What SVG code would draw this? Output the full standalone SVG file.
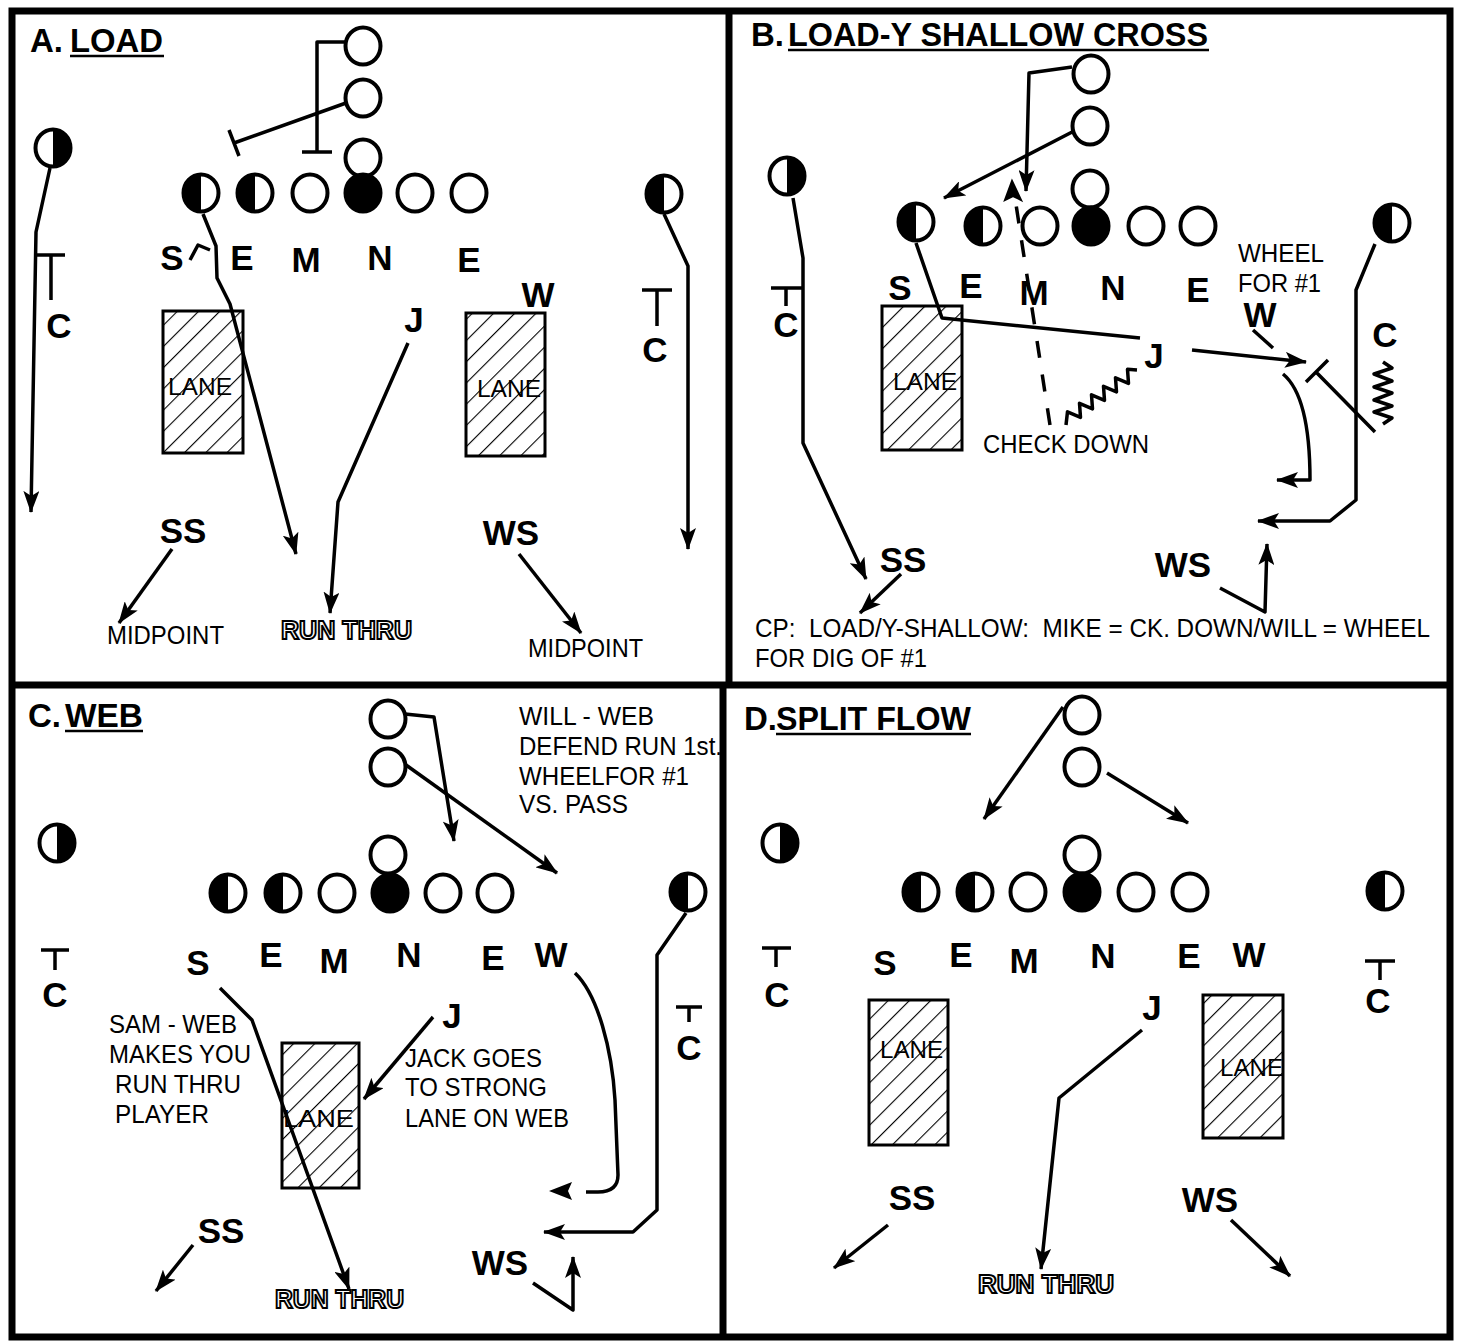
<svg xmlns="http://www.w3.org/2000/svg" xmlns:xlink="http://www.w3.org/1999/xlink" width="1457" height="1341" viewBox="0 0 1457 1341">
<style>
text{font-family:"Liberation Sans",Arial,sans-serif;fill:#000}
.b{font-weight:bold}
.lbl{font-weight:bold;font-size:35px;text-anchor:middle}
.ttl{font-weight:bold;font-size:33px}
.n{font-size:25px}
.hol{font-weight:bold;font-size:26px;fill:#fff;stroke:#000;stroke-width:2}
.lane{font-size:23px}
.ln{fill:none;stroke:#000;stroke-width:3.5;stroke-linejoin:round;stroke-linecap:butt}
.ar{marker-end:url(#ah)}
.ul{stroke:#000;stroke-width:2.5}
.fr{fill:none;stroke:#000;stroke-width:7}
.lanebox{fill:url(#hatch);stroke:#000;stroke-width:3}
</style>
<defs>
<marker id="ah" viewBox="0 0 22 16" refX="21" refY="8" markerWidth="22" markerHeight="16" markerUnits="userSpaceOnUse" orient="auto">
<path d="M0,0 L22,8 L0,16 L5,8 Z" fill="#000"/>
</marker>
<pattern id="hatch" patternUnits="userSpaceOnUse" width="15" height="15" patternTransform="rotate(45)">
<rect width="15" height="15" fill="#fff"/>
<line x1="0" y1="0" x2="0" y2="15" stroke="#000" stroke-width="2.2"/>
</pattern>
<g id="po"><ellipse rx="17.5" ry="18.5" fill="#fff" stroke="#000" stroke-width="4"/></g>
<g id="pf"><ellipse rx="17.5" ry="18.5" fill="#000" stroke="#000" stroke-width="4"/></g>
<g id="pl"><ellipse rx="17.5" ry="18.5" fill="#fff" stroke="#000" stroke-width="4"/><path d="M0,-18.5 A17.5,18.5 0 0 0 0,18.5 Z" fill="#000"/></g>
<g id="pr"><ellipse rx="17.5" ry="18.5" fill="#fff" stroke="#000" stroke-width="4"/><path d="M0,-18.5 A17.5,18.5 0 0 1 0,18.5 Z" fill="#000"/></g>
</defs>
<rect width="1457" height="1341" fill="#fff"/>
<g id="frame">
<path class="fr" d="M12,11 H1450 V1337 H12 Z"/>
<path class="fr" d="M729,11 V685 M12,685 H1450 M723,685 V1337"/>
</g>

<!-- Lanes -->
<g id="lanes">
<g id="a-lane-l"><rect class="lanebox" x="163" y="311" width="80" height="142"/><text class="lane" x="168" y="395" textLength="64" lengthAdjust="spacingAndGlyphs">LANE</text></g>
<g id="a-lane-r"><rect class="lanebox" x="466" y="313" width="79" height="143"/><text class="lane" x="477" y="397" textLength="64" lengthAdjust="spacingAndGlyphs">LANE</text></g>
<g id="b-lane"><rect class="lanebox" x="882" y="306" width="80" height="144"/><text class="lane" x="893" y="390" textLength="64" lengthAdjust="spacingAndGlyphs">LANE</text></g>
<g id="c-lane"><rect class="lanebox" x="282" y="1043" width="77" height="145"/><text class="lane" x="283" y="1127" textLength="71" lengthAdjust="spacingAndGlyphs">LANE</text></g>
<g id="d-lane-l"><rect class="lanebox" x="869" y="1000" width="79" height="145"/><text class="lane" x="880" y="1058" textLength="63" lengthAdjust="spacingAndGlyphs">LANE</text></g>
<g id="d-lane-r"><rect class="lanebox" x="1203" y="995" width="80" height="143"/><text class="lane" x="1220" y="1076" textLength="63" lengthAdjust="spacingAndGlyphs">LANE</text></g>
</g>

<g id="connectors">
<!-- Panel A -->
<path class="ln" d="M345,42 L317,42 L317,152 M302,152 L332,152"/>
<path class="ln" d="M346,103 L234,143 M229,130 L239,156"/>
<path class="ln ar" d="M50,168 L36,232 L31,512"/>
<path class="ln ar" d="M203,214 L216,246 L217,278 L230,304 L296,554"/>
<path class="ln" d="M190,260 L198,245 L210,250"/>
<path class="ln ar" d="M664,214 L688,266 L688,549"/>
<path class="ln ar" d="M408,343 L338,502 L330,613"/>
<path class="ln ar" d="M172,549 L119,623"/>
<path class="ln ar" d="M519,554 L581,633"/>
<path class="ln" d="M37,255 L65,255 M51,255 L51,300"/>
<path class="ln" d="M642,290 L672,290 M657,290 L657,326"/>
<!-- Panel B -->
<path class="ln ar" d="M1072,67 L1029,73 L1026,191"/>
<path class="ln ar" d="M1076,130 L944,198"/>
<path class="ln" d="M1050,425 L1015,198" stroke-dasharray="17 17"/>
<path d="M1012,181 L1021,200 L1013,196 L1005,200 Z" fill="#000" stroke="#000" stroke-width="2"/>
<path class="ln" d="M916,243 L942,318 L1140,338"/>
<path class="ln" d="M1137,370 L1127.5,369.3 L1128.5,383.4 L1115.5,377.8 L1116.5,391.9 L1103.5,386.3 L1104.5,400.4 L1091.5,394.8 L1092.5,408.9 L1079.5,403.3 L1080.5,417.4 L1067.5,411.8 L1066,425" stroke-width="3"/>
<path class="ln ar" d="M1192,350 L1306,362"/>
<path class="ln" d="M1253,330 L1273,348"/>
<path class="ln" d="M1375,432 L1316,372 M1306,382 L1328,360"/>
<path class="ln ar" d="M1283,374 C1300,388 1310,420 1310,480 L1277,480"/>
<path class="ln ar" d="M1375,244 L1356,290 L1356,500 L1330,521 L1258,521"/>
<path class="ln" d="M1383,362 L1392,368 L1374,374 L1392,381 L1374,387 L1392,393 L1374,400 L1392,406 L1374,412 L1392,418 L1383,424" stroke-width="3"/>
<path class="ln ar" d="M793,198 L803,258 L803,443 L866,579"/>
<path class="ln ar" d="M901,574 L860,613"/>
<path class="ln ar" d="M1220,588 L1265,612 L1267,544"/>
<path class="ln" d="M771,288 L802,288 M786,288 L786,306"/>
<!-- Panel C -->
<path class="ln ar" d="M405,714 L434,717 L454,841"/>
<path class="ln ar" d="M406,765 L557,873"/>
<path class="ln ar" d="M686,913 L657,955 L657,1210 L633,1232 L544,1232"/>
<path class="ln" d="M575,973 C598,995 612,1050 615,1100 L618,1175 Q618,1192 598,1192 L586,1192"/>
<path d="M549,1191 L572,1182 L568,1191 L572,1200 Z" fill="#000"/>
<path class="ln ar" d="M433,1017 L364,1099"/>
<path class="ln ar" d="M220,988 L252,1020 L349,1289"/>
<path class="ln ar" d="M193,1245 L156,1291"/>
<path class="ln ar" d="M533,1283 L573,1310 L573,1257"/>
<path class="ln" d="M41,950 L69,950 M55,950 L55,970"/>
<path class="ln" d="M676,1007 L702,1007 M689,1007 L689,1022"/>
<!-- Panel D -->
<path class="ln ar" d="M1063,707 L984,819"/>
<path class="ln ar" d="M1107,773 L1188,823"/>
<path class="ln ar" d="M1142,1030 L1059,1098 L1041,1269"/>
<path class="ln ar" d="M888,1225 L834,1268"/>
<path class="ln ar" d="M1231,1220 L1290,1276"/>
<path class="ln" d="M762,948 L791,948 M776,948 L776,967"/>
<path class="ln" d="M1365,961 L1395,961 M1380,961 L1380,980"/>
</g>

<!-- Panel A nodes -->
<g id="a-title"><text class="ttl" x="30" y="52">A.</text><text class="ttl" x="70" y="52" textLength="93" lengthAdjust="spacingAndGlyphs">LOAD</text><line class="ul" x1="70" y1="56" x2="164" y2="56"/></g>
<g id="a-rb1"><use xlink:href="#po" x="363" y="46"/></g>
<g id="a-rb2"><use xlink:href="#po" x="363" y="98"/></g>
<g id="a-qb"><use xlink:href="#po" x="363" y="158"/></g>
<g id="a-c"><use xlink:href="#pf" x="363" y="193"/></g>
<g id="a-o1"><use xlink:href="#pl" x="201" y="193"/></g>
<g id="a-o2"><use xlink:href="#pl" x="255" y="193"/></g>
<g id="a-o3"><use xlink:href="#po" x="310" y="193"/></g>
<g id="a-o5"><use xlink:href="#po" x="415" y="193"/></g>
<g id="a-o6"><use xlink:href="#po" x="469" y="193"/></g>
<g id="a-wrl"><use xlink:href="#pr" x="53" y="148"/></g>
<g id="a-wrr"><use xlink:href="#pl" x="664" y="194"/></g>
<g id="a-labels">
<text class="lbl" x="172" y="270">S</text>
<text class="lbl" x="242" y="270">E</text>
<text class="lbl" x="306" y="272">M</text>
<text class="lbl" x="380" y="270">N</text>
<text class="lbl" x="469" y="272">E</text>
<text class="lbl" x="538" y="307">W</text>
<text class="lbl" x="414" y="332">J</text>
<text class="lbl" x="59" y="338">C</text>
<text class="lbl" x="655" y="362">C</text>
<text class="lbl" x="183" y="543">SS</text>
<text class="lbl" x="511" y="545">WS</text>
</g>
<g id="a-notes">
<text class="n" x="107" y="644" textLength="117" lengthAdjust="spacingAndGlyphs">MIDPOINT</text>
<text class="hol" x="281" y="639" textLength="131" lengthAdjust="spacingAndGlyphs">RUN THRU</text>
<text class="n" x="528" y="657" textLength="115" lengthAdjust="spacingAndGlyphs">MIDPOINT</text>
</g>

<!-- Panel B nodes -->
<g id="b-title"><text class="ttl" x="751" y="46">B.</text><text class="ttl" x="788" y="46" textLength="420" lengthAdjust="spacingAndGlyphs">LOAD-Y SHALLOW CROSS</text><line class="ul" x1="788" y1="50" x2="1209" y2="50"/></g>
<g id="b-rb1"><use xlink:href="#po" x="1091" y="74"/></g>
<g id="b-rb2"><use xlink:href="#po" x="1090" y="126"/></g>
<g id="b-qb"><use xlink:href="#po" x="1090" y="189"/></g>
<g id="b-c"><use xlink:href="#pf" x="1091" y="226"/></g>
<g id="b-o1"><use xlink:href="#pl" x="916" y="222"/></g>
<g id="b-o2"><use xlink:href="#pl" x="983" y="226"/></g>
<g id="b-o3"><use xlink:href="#po" x="1040" y="226"/></g>
<g id="b-o5"><use xlink:href="#po" x="1146" y="226"/></g>
<g id="b-o6"><use xlink:href="#po" x="1198" y="226"/></g>
<g id="b-wrl"><use xlink:href="#pr" x="787" y="176"/></g>
<g id="b-wrr"><use xlink:href="#pl" x="1392" y="223"/></g>
<g id="b-labels">
<text class="lbl" x="900" y="300">S</text>
<text class="lbl" x="971" y="298">E</text>
<text class="lbl" x="1034" y="305">M</text>
<text class="lbl" x="1113" y="300">N</text>
<text class="lbl" x="1198" y="302">E</text>
<text class="lbl" x="1260" y="327">W</text>
<text class="lbl" x="1154" y="368">J</text>
<text class="lbl" x="786" y="337">C</text>
<text class="lbl" x="1385" y="347">C</text>
<text class="lbl" x="903" y="572">SS</text>
<text class="lbl" x="1183" y="577">WS</text>
</g>
<g id="b-notes">
<text class="n" x="1238" y="262" textLength="86" lengthAdjust="spacingAndGlyphs">WHEEL</text>
<text class="n" x="1238" y="292" textLength="83" lengthAdjust="spacingAndGlyphs">FOR #1</text>
<text class="n" x="983" y="453" textLength="166" lengthAdjust="spacingAndGlyphs">CHECK DOWN</text>
<text class="n" x="755" y="637" font-size="26" textLength="675" lengthAdjust="spacingAndGlyphs" xml:space="preserve">CP:  LOAD/Y-SHALLOW:  MIKE = CK. DOWN/WILL = WHEEL</text>
<text class="n" x="755" y="667" font-size="26" textLength="172" lengthAdjust="spacingAndGlyphs">FOR DIG OF #1</text>
</g>

<!-- Panel C nodes -->
<g id="c-title"><text class="ttl" x="28" y="727">C.</text><text class="ttl" x="65" y="727" textLength="78" lengthAdjust="spacingAndGlyphs">WEB</text><line class="ul" x1="65" y1="731" x2="143" y2="731"/></g>
<g id="c-rb1"><use xlink:href="#po" x="388" y="719"/></g>
<g id="c-rb2"><use xlink:href="#po" x="388" y="767"/></g>
<g id="c-qb"><use xlink:href="#po" x="388" y="855"/></g>
<g id="c-c"><use xlink:href="#pf" x="390" y="893"/></g>
<g id="c-o1"><use xlink:href="#pl" x="228" y="893"/></g>
<g id="c-o2"><use xlink:href="#pl" x="283" y="893"/></g>
<g id="c-o3"><use xlink:href="#po" x="337" y="893"/></g>
<g id="c-o5"><use xlink:href="#po" x="443" y="893"/></g>
<g id="c-o6"><use xlink:href="#po" x="495" y="893"/></g>
<g id="c-wrl"><use xlink:href="#pr" x="57" y="843"/></g>
<g id="c-wrr"><use xlink:href="#pl" x="688" y="892"/></g>
<g id="c-labels">
<text class="lbl" x="198" y="975">S</text>
<text class="lbl" x="271" y="967">E</text>
<text class="lbl" x="334" y="973">M</text>
<text class="lbl" x="409" y="967">N</text>
<text class="lbl" x="493" y="970">E</text>
<text class="lbl" x="551" y="967">W</text>
<text class="lbl" x="452" y="1028">J</text>
<text class="lbl" x="55" y="1007">C</text>
<text class="lbl" x="689" y="1060">C</text>
<text class="lbl" x="221" y="1243">SS</text>
<text class="lbl" x="500" y="1275">WS</text>
</g>
<g id="c-notes">
<text class="n" x="519" y="725" textLength="135" lengthAdjust="spacingAndGlyphs">WILL - WEB</text>
<text class="n" x="519" y="755" textLength="203" lengthAdjust="spacingAndGlyphs">DEFEND RUN 1st.</text>
<text class="n" x="519" y="785" textLength="170" lengthAdjust="spacingAndGlyphs">WHEELFOR #1</text>
<text class="n" x="519" y="813" textLength="109" lengthAdjust="spacingAndGlyphs">VS. PASS</text>
<text class="n" x="109" y="1033" textLength="128" lengthAdjust="spacingAndGlyphs">SAM - WEB</text>
<text class="n" x="109" y="1063" textLength="142" lengthAdjust="spacingAndGlyphs">MAKES YOU</text>
<text class="n" x="115" y="1093" textLength="126" lengthAdjust="spacingAndGlyphs">RUN THRU</text>
<text class="n" x="115" y="1123" textLength="94" lengthAdjust="spacingAndGlyphs">PLAYER</text>
<text class="n" x="405" y="1067" textLength="137" lengthAdjust="spacingAndGlyphs">JACK GOES</text>
<text class="n" x="405" y="1096" textLength="142" lengthAdjust="spacingAndGlyphs">TO STRONG</text>
<text class="n" x="405" y="1127" textLength="164" lengthAdjust="spacingAndGlyphs">LANE ON WEB</text>
<text class="hol" x="275" y="1308" textLength="129" lengthAdjust="spacingAndGlyphs">RUN THRU</text>
</g>

<!-- Panel D nodes -->
<g id="d-title"><text class="ttl" x="744" y="730">D.</text><text class="ttl" x="776" y="730" textLength="195" lengthAdjust="spacingAndGlyphs">SPLIT FLOW</text><line class="ul" x1="776" y1="734" x2="971" y2="734"/></g>
<g id="d-rb1"><use xlink:href="#po" x="1082" y="715"/></g>
<g id="d-rb2"><use xlink:href="#po" x="1082" y="767"/></g>
<g id="d-qb"><use xlink:href="#po" x="1082" y="855"/></g>
<g id="d-c"><use xlink:href="#pf" x="1082" y="892"/></g>
<g id="d-o1"><use xlink:href="#pl" x="921" y="892"/></g>
<g id="d-o2"><use xlink:href="#pl" x="975" y="892"/></g>
<g id="d-o3"><use xlink:href="#po" x="1028" y="892"/></g>
<g id="d-o5"><use xlink:href="#po" x="1136" y="892"/></g>
<g id="d-o6"><use xlink:href="#po" x="1190" y="892"/></g>
<g id="d-wrl"><use xlink:href="#pr" x="780" y="843"/></g>
<g id="d-wrr"><use xlink:href="#pl" x="1385" y="891"/></g>
<g id="d-labels">
<text class="lbl" x="885" y="975">S</text>
<text class="lbl" x="961" y="967">E</text>
<text class="lbl" x="1024" y="973">M</text>
<text class="lbl" x="1103" y="968">N</text>
<text class="lbl" x="1189" y="968">E</text>
<text class="lbl" x="1249" y="967">W</text>
<text class="lbl" x="1152" y="1020">J</text>
<text class="lbl" x="777" y="1007">C</text>
<text class="lbl" x="1378" y="1013">C</text>
<text class="lbl" x="912" y="1210">SS</text>
<text class="lbl" x="1210" y="1212">WS</text>
</g>
<g id="d-notes">
<text class="hol" x="978" y="1293" textLength="136" lengthAdjust="spacingAndGlyphs">RUN THRU</text>
</g>
</svg>
